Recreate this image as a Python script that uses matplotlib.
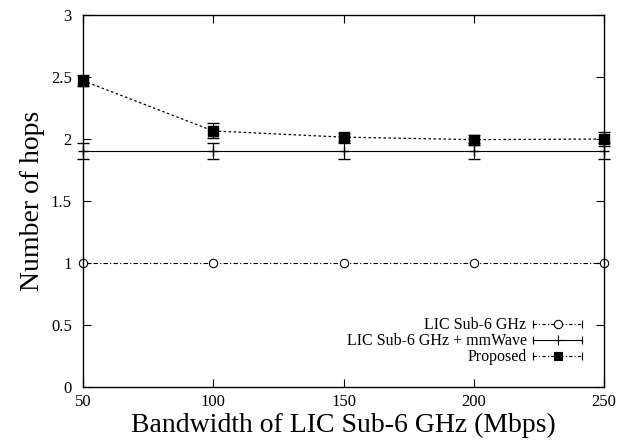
import matplotlib

matplotlib.use("Agg")
import matplotlib.pyplot as plt
from matplotlib.legend_handler import HandlerBase
from matplotlib.lines import Line2D

bandwidth = [50, 100, 150, 200, 250]

lic_hops = [1.0, 1.0, 1.0, 1.0, 1.0]
mmwave_hops = [1.90, 1.90, 1.90, 1.90, 1.90]
mmwave_err = [0.065, 0.065, 0.065, 0.065, 0.065]
proposed_hops = [2.47, 2.065, 2.015, 1.995, 2.0]
proposed_err = [0.045, 0.06, 0.035, 0.04, 0.06]

plt.rcParams["font.family"] = ["Liberation Serif", "DejaVu Serif"]


class GnuplotKey(HandlerBase):
    """Horizontal sample with end caps, like a gnuplot key entry."""

    def __init__(self, ls, marker, mfc, ms):
        super().__init__()
        self.ls, self.marker, self.mfc, self.ms = ls, marker, mfc, ms

    def create_artists(self, legend, orig, xd, yd, width, height, fontsize, trans):
        y = height / 2 - yd
        x0, x1 = -xd, width - xd
        line = Line2D([x0, x1], [y, y], ls=self.ls, lw=0.8, color="black",
                      transform=trans)
        caps = Line2D([x0, x1], [y, y], ls="none", marker="|", ms=6,
                      mew=0.8, color="black", transform=trans)
        mark = Line2D([(x0 + x1) / 2], [y], ls="none", marker=self.marker,
                      ms=self.ms, mfc=self.mfc, mec="black", mew=0.8,
                      transform=trans)
        return [line, caps, mark]


fig = plt.figure(figsize=(6.27, 4.40), dpi=100)
ax = fig.add_axes([83 / 627, 1 - 387 / 440, (604 - 83) / 627, (387 - 15) / 440])

h1 = ax.errorbar(bandwidth, lic_hops, fmt="o", ls=(0, (4, 2, 1, 2)), lw=0.8,
                 color="black", mfc="white", ms=6, mew=0.8, clip_on=False)
h2 = ax.errorbar(bandwidth, mmwave_hops, yerr=mmwave_err, fmt="+", ls="-",
                 lw=0.8, color="black", ms=7, capsize=4, elinewidth=0.8,
                 clip_on=False)
h3 = ax.errorbar(bandwidth, proposed_hops, yerr=proposed_err, fmt="s",
                 ls=(0, (2, 2)), lw=0.9, color="black", ms=7, capsize=4,
                 elinewidth=0.8, clip_on=False)

ax.set_xlim(50, 250)
ax.set_ylim(0, 3)
ax.set_xticks(bandwidth)
ax.set_yticks([0, 0.5, 1, 1.5, 2, 2.5, 3])
ax.set_yticklabels(["0", "0.5", "1", "1.5", "2", "2.5", "3"])
ax.tick_params(direction="in", top=True, right=True, labelsize=12,
               length=6, width=0.8)
ax.tick_params(axis="x", pad=5)
ax.tick_params(axis="y", pad=8)
for s in ax.spines.values():
    s.set_linewidth(1.0)

ax.set_xlabel("Bandwidth of LIC Sub-6 GHz (Mbps)", fontsize=20, labelpad=2)
ax.set_ylabel("Number of hops", fontsize=20, labelpad=4)

ax.legend([h1, h2, h3],
          ["LIC Sub-6 GHz", "LIC Sub-6 GHz + mmWave", "Proposed"],
          handler_map={
              h1: GnuplotKey((0, (3, 2, 1, 2)), "o", "white", 6),
              h2: GnuplotKey("-", "+", "black", 7),
              h3: GnuplotKey((0, (3, 2, 1, 2)), "s", "black", 6),
          },
          loc="lower right", frameon=False, markerfirst=False, fontsize=11.5,
          handlelength=3.1, handleheight=0.5, handletextpad=0.4,
          labelspacing=0.0, borderaxespad=0.95)

fig.savefig("out.png", dpi=100)
